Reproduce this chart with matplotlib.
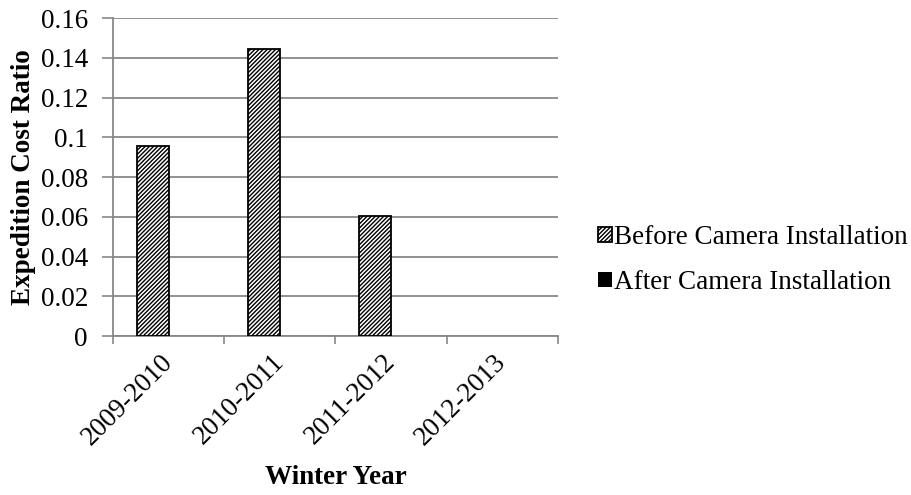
import numpy as np
import matplotlib.pyplot as plt

plt.rcParams['font.family'] = ['Liberation Serif', 'DejaVu Serif']
plt.rcParams['hatch.linewidth'] = 1.0

years = ['2009-2010', '2010-2011', '2011-2012', '2012-2013']
before = [0.0956, 0.1443, 0.0605, 0]
after = [0, 0, 0, 0]

fig = plt.figure(figsize=(9.12, 4.95), dpi=100)
ax = fig.add_axes([0.1239, 0.3212, 0.4879, 0.6424])

x = np.arange(len(years))
w = 1 / 3.5
lw_b = [1.3 if v > 0 else 0 for v in before]
ax.bar(x - w / 2, before, w, facecolor='white', edgecolor='black', hatch='////////',
       linewidth=lw_b, label='Before Camera Installation', zorder=3)
ax.bar(x + w / 2, after, w, facecolor='black', edgecolor='black',
       linewidth=0, label='After Camera Installation', zorder=3)

ax.set_xlim(-0.5, 3.5)
ax.set_ylim(0, 0.16)
ax.set_yticks(np.arange(0, 0.161, 0.02))
ax.set_yticklabels(['0', '0.02', '0.04', '0.06', '0.08', '0.1', '0.12', '0.14', '0.16'])
ax.set_xticks(np.arange(-0.5, 3.6, 1), minor=True)
ax.set_xticks(x)
ax.set_xticklabels(years, rotation=45, ha='right', va='center', rotation_mode='anchor')
ax.tick_params(axis='x', which='major', length=0, pad=16, labelsize=19.5)
ax.tick_params(axis='x', which='minor', length=6, color='#888888', width=1.2)
ax.tick_params(axis='y', length=8, color='#888888', width=1.2, labelsize=19.5, pad=10)

ax.yaxis.grid(True, color='#888888', linewidth=1.3, zorder=0)
ax.set_axisbelow(True)
for s in ['top', 'right']:
    ax.spines[s].set_visible(False)
for s in ['left', 'bottom']:
    ax.spines[s].set_color('#888888')
    ax.spines[s].set_linewidth(1.3)

ax.set_ylabel('Expedition Cost Ratio', fontsize=19.5, fontweight='bold', va='center')
ax.yaxis.set_label_coords(-0.202, 0.5)
ax.set_xlabel('Winter Year', fontsize=19.5, fontweight='bold', va='center')
ax.xaxis.set_label_coords(0.5, -0.4465)

ax.legend(loc='center left', bbox_to_anchor=(598 / 912, 1 - 260 / 495),
          bbox_transform=fig.transFigure, frameon=False, fontsize=19.5,
          handlelength=0.5, handleheight=0.5, handletextpad=0.08, labelspacing=0.75,
          borderpad=0, borderaxespad=0)

fig.savefig('out.png', dpi=100)
